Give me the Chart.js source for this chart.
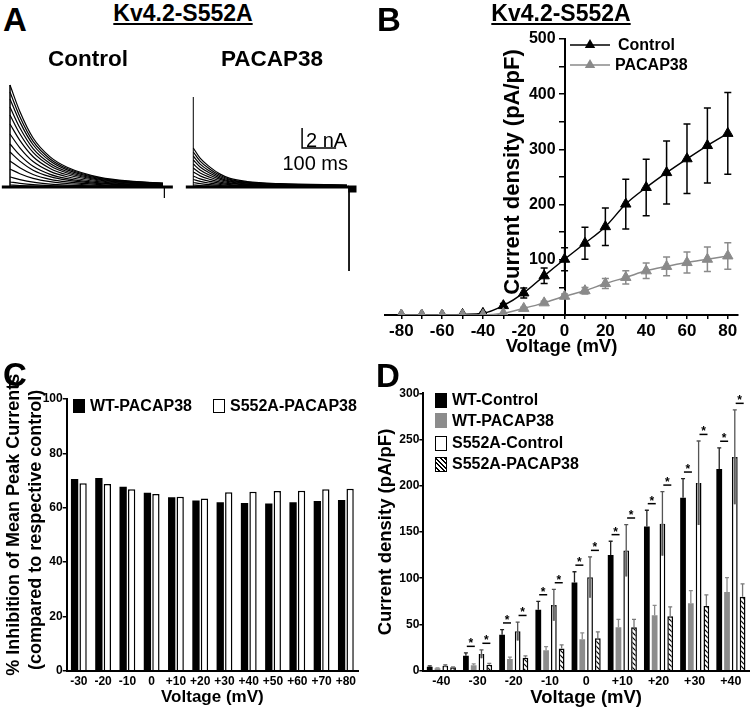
<!DOCTYPE html>
<html>
<head>
<meta charset="utf-8">
<script src="https://cdn.jsdelivr.net/npm/chart.js@4.4.0/dist/chart.umd.min.js"></script>
<style>
  body { margin: 0; background: #fff; }
  #fig { position: relative; width: 750px; height: 712px; overflow: hidden;
         font-family: 'Liberation Sans', Arial, Helvetica, sans-serif; color: #000; }
  #fig canvas { position: absolute; }
  .t { position: absolute; white-space: nowrap; line-height: 1; font-weight: bold; }
  .letter { font-size: 33px; }
  .ttl { font-size: 23px; text-decoration: underline; width: 200px; text-align: center; }
  .sw { position: absolute; box-sizing: border-box; }
</style>
</head>
<body>
<div id="fig">
  <canvas id="traceCtrl" width="180" height="150" style="left:0;top:70px"></canvas>
  <canvas id="tracePac" width="195" height="215" style="left:180px;top:70px"></canvas>
  <canvas id="chartB" width="375" height="345" style="left:375px;top:20px"></canvas>
  <canvas id="chartC" width="375" height="372" style="left:0;top:340px"></canvas>
  <canvas id="chartD" width="375" height="372" style="left:375px;top:340px"></canvas>

  <div class="t letter" style="left:3px;top:3px">A</div>
  <div class="t letter" style="left:377px;top:3px">B</div>
  <div class="t letter" style="left:3px;top:358px">C</div>
  <div class="t letter" style="left:376px;top:359px">D</div>

  <div class="t ttl" style="left:83px;top:2px">Kv4.2-S552A</div>
  <div class="t ttl" style="left:461px;top:2px">Kv4.2-S552A</div>

  <div class="t" style="left:-12px;top:48px;width:200px;text-align:center;font-size:22.5px">Control</div>
  <div class="t" style="left:172px;top:48px;width:200px;text-align:center;font-size:22.5px">PACAP38</div>
  <div class="t" style="left:306px;top:130px;font-size:20px;font-weight:normal">2 nA</div>
  <div class="t" style="left:248px;top:153px;width:100px;text-align:right;font-size:20px;font-weight:normal">100 ms</div>

  <div class="t" style="left:362px;top:159px;width:300px;height:26px;line-height:26px;text-align:center;font-size:22px;transform:rotate(-90deg);transform-origin:150px 13px">Current density (pA/pF)</div>
  <div class="t" style="left:618px;top:37px;font-size:16px">Control</div>
  <div class="t" style="left:615px;top:57px;font-size:16px">PACAP38</div>

  <div class="sw" style="left:73px;top:399px;width:12px;height:14px;background:#000"></div>
  <div class="t" style="left:90px;top:398px;font-size:16px">WT-PACAP38</div>
  <div class="sw" style="left:213px;top:399px;width:12px;height:14px;background:#fff;border:1.5px solid #000"></div>
  <div class="t" style="left:230px;top:398px;font-size:16px">S552A-PACAP38</div>

  <div class="sw" style="left:435px;top:393px;width:12px;height:15px;background:#000"></div>
  <div class="t" style="left:452px;top:392px;font-size:16px">WT-Control</div>
  <div class="sw" style="left:435px;top:413px;width:12px;height:15px;background:#8c8c8c"></div>
  <div class="t" style="left:452px;top:413px;font-size:16px">WT-PACAP38</div>
  <div class="sw" style="left:435px;top:436px;width:12px;height:15px;background:#fff;border:1.5px solid #000"></div>
  <div class="t" style="left:452px;top:435px;font-size:16px">S552A-Control</div>
  <div class="sw" style="left:435px;top:457px;width:12px;height:15px;border:1.5px solid #000;background:repeating-linear-gradient(45deg,#fff 0 2px,#000 2px 3.2px)"></div>
  <div class="t" style="left:452px;top:456px;font-size:16px">S552A-PACAP38</div>
</div>

<script>
// ---- A: example sweeps (envelope, sweep peaks in nA)
const aCtrlTime = [0, 29, 68, 118, 168, 265, 362, 450];
const aCtrlShape = [1, 0.74, 0.48, 0.295, 0.194, 0.095, 0.056, 0.039];
const aCtrlPeaks = [10.2, 9.5, 8.8, 8.0, 7.2, 6.3, 5.3, 4.3, 3.5, 2.6, 1.8, 1.0, 0.5, 0.2];
const aPacTime = [0, 20, 49, 79, 108, 158, 255, 452];
const aPacShape = [1, 0.74, 0.51, 0.33, 0.22, 0.14, 0.085, 0.05];
const aPacPeaks = [3.9, 3.5, 3.1, 2.7, 2.3, 1.9, 1.5, 1.1, 0.75, 0.45, 0.2];
const aPacTransient = 9.0;     // nA, capacitive spike at step onset
const aPacTail = -8.4;         // nA, spike at step end

// ---- B: I-V relation
const bVolt = [-80, -70, -60, -50, -40, -30, -20, -10, 0, 10, 20, 30, 40, 50, 60, 70, 80];
const bCtrl = [0, 0, 0, 1, 3, 17, 40, 71, 101, 130, 160, 201, 231, 258, 283, 307, 329];
const bCtrlErr = [0, 0, 0, 1, 2, 4, 9, 14, 21, 29, 34, 45, 51, 57, 63, 68, 74];
const bPac = [0, 0, 0, 0, 0, 3, 12, 22, 34, 44, 57, 68, 80, 88, 95, 101, 107];
const bPacErr = [0, 0, 0, 0, 0, 1, 2, 3, 4, 6, 9, 12, 14, 17, 19, 22, 24];

// ---- C: % inhibition
const cVolt = ['-30', '-20', '-10', '0', '+10', '+20', '+30', '+40', '+50', '+60', '+70', '+80'];
const cWT = [70.6, 70.9, 67.7, 65.5, 63.8, 62.6, 62.0, 61.7, 61.5, 62.0, 62.5, 62.8];
const cS552A = [69.0, 68.7, 66.8, 65.0, 64.0, 63.4, 65.7, 65.9, 66.1, 66.2, 66.8, 67.0];

// ---- D: current density bars
const dVolt = ['-40', '-30', '-20', '-10', '0', '+10', '+20', '+30', '+40'];
const dWTCtrl = [4.3, 16.2, 39, 66, 95.5, 125, 156, 187, 218];
const dWTCtrlErr = [1, 3, 5.5, 9, 11.5, 15, 17.5, 20.7, 23];
const dWTPac = [2.6, 5.8, 12.7, 22, 34, 47, 60, 73, 85];
const dWTPacErr = [0.5, 1.5, 2, 4, 7, 8.5, 10.7, 13.5, 15.6];
const dSCtrl = [5.4, 18, 42.6, 71, 101, 130, 159, 203, 231];
const dSCtrlErr = [1, 4.5, 10, 17, 22, 28, 34.6, 45.4, 51];
const dSPac = [3.6, 6.5, 14, 24, 35, 47, 59, 70, 80];
const dSPacErr = [0.5, 1.5, 2, 4, 7, 8.5, 10, 12, 13.8];
const dSig = [false, true, true, true, true, true, true, true, true];

const FONT = "'Liberation Sans', Arial, Helvetica, sans-serif";
Chart.defaults.font.family = FONT;
Chart.defaults.color = '#000';

const quiet = { legend: { display: false }, tooltip: { enabled: false } };

// error bars: dataset.errors, drawn up (and down when errorBoth)
function drawErrors(chart) {
  const ctx = chart.ctx;
  chart.data.datasets.forEach((ds, di) => {
    if (!ds.errors) return;
    const meta = chart.getDatasetMeta(di);
    const ys = chart.scales[meta.yAxisID];
    ctx.save();
    ctx.strokeStyle = ds.errorColor || '#000';
    ctx.lineWidth = ds.errorWidth || 1.5;
    meta.data.forEach((el, i) => {
      const e = ds.errors[i];
      if (!e) return;
      const v = typeof ds.data[i] === 'object' ? ds.data[i].y : ds.data[i];
      const x = el.x, y0 = ys.getPixelForValue(v);
      const yt = ys.getPixelForValue(v + e), yb = ys.getPixelForValue(v - e);
      const c = ds.errorCap / 2;
      if (ds.errorInner) {
        ctx.fillStyle = '#9a9a9a';
        ctx.fillRect(x - el.width / 2 + 1.5, y0, el.width - 3, yb - y0);
        ctx.beginPath(); ctx.moveTo(x, y0); ctx.lineTo(x, yb); ctx.stroke();
      }
      ctx.beginPath();
      ctx.moveTo(x, y0); ctx.lineTo(x, yt);
      ctx.moveTo(x - c, yt); ctx.lineTo(x + c, yt);
      if (ds.errorBoth) {
        ctx.moveTo(x, y0); ctx.lineTo(x, yb);
        ctx.moveTo(x - c, yb); ctx.lineTo(x + c, yb);
      }
      ctx.stroke();
    });
    ctx.restore();
  });
}
const errorBars = {
  id: 'errorBars',
  beforeDatasetsDraw(chart, a, o) { if (o.under) drawErrors(chart); },
  afterDatasetsDraw(chart, a, o) { if (!o.under) drawErrors(chart); }
};

// ---------- A
function sweeps(times, shape, peaks) {
  return peaks.map(p => ({
    data: times.map((t, i) => ({ x: t, y: p * shape[i] })),
    borderColor: '#000', borderWidth: 1.2, pointRadius: 0, cubicInterpolationMode: 'monotone'
  }));
}
function seg(points, w) {
  return { data: points, borderColor: '#000', borderWidth: w, pointRadius: 0, tension: 0 };
}
function traceChart(id, xr, yr, datasets) {
  return new Chart(document.getElementById(id), {
    type: 'line',
    data: { datasets },
    options: {
      responsive: false, animation: false, devicePixelRatio: 1, events: [],
      layout: { padding: 0 },
      plugins: quiet,
      scales: {
        x: { type: 'linear', display: false, min: xr[0], max: xr[1] },
        y: { type: 'linear', display: false, min: yr[0], max: yr[1] }
      }
    }
  });
}
const ctrlEnd = aCtrlTime[aCtrlTime.length - 1];
traceChart('traceCtrl', [-29.4, 500], [-3.3, 11.7], [
  seg([{ x: -24, y: 0 }, { x: 479, y: 0 }], 3),
  seg([{ x: 0, y: 0 }, { x: 0, y: aCtrlPeaks[0] }], 1.5),
  seg([{ x: ctrlEnd + 4, y: 0 }, { x: ctrlEnd + 4, y: -1.1 }], 1.2),
  ...sweeps(aCtrlTime, aCtrlShape, aCtrlPeaks)
]);
const pacEnd = aPacTime[aPacTime.length - 1] + 6;
traceChart('tracePac', [-39.1, 534.4], [-9.8, 11.7], [
  seg([{ x: -22, y: 0 }, { x: pacEnd, y: 0 }], 3),
  seg([{ x: 0, y: 0 }, { x: 0, y: aPacTransient }], 1),
  seg([{ x: pacEnd, y: 0 }, { x: pacEnd, y: aPacTail }], 1),
  seg([{ x: pacEnd - 2, y: -0.2 }, { x: pacEnd + 22, y: -0.2 }], 7),
  seg([{ x: 320, y: 5.9 }, { x: 320, y: 3.9 }, { x: 420, y: 3.9 }], 1.5),
  ...sweeps(aPacTime, aPacShape, aPacPeaks)
]);

// ---------- B
const lineLegend = {
  id: 'lineLegend',
  afterDraw(chart, a, o) {
    const ctx = chart.ctx;
    chart.data.datasets.forEach((ds, i) => {
      const y = o.y + i * o.gap, cx = o.x + o.len / 2, r = ds.pointRadius;
      ctx.save();
      ctx.strokeStyle = ds.borderColor; ctx.lineWidth = ds.borderWidth;
      ctx.beginPath(); ctx.moveTo(o.x, y); ctx.lineTo(o.x + o.len, y); ctx.stroke();
      ctx.fillStyle = ds.pointBackgroundColor;
      ctx.beginPath();
      for (let k = 0; k < 3; k++) {
        const ang = k * 2 * Math.PI / 3;
        const px = cx + Math.sin(ang) * r, py = y - Math.cos(ang) * r;
        if (k) ctx.lineTo(px, py); else ctx.moveTo(px, py);
      }
      ctx.closePath(); ctx.fill();
      ctx.restore();
    });
  }
};
function ivSet(vals, errs, color, order) {
  return {
    data: bVolt.map((v, i) => ({ x: v, y: vals[i] })),
    errors: errs, errorBoth: true, errorCap: 7, errorColor: color, errorWidth: 1.5,
    borderColor: color, borderWidth: 1.5, pointStyle: 'triangle', pointRadius: 6,
    pointBackgroundColor: color, pointBorderColor: color, pointBorderWidth: 1,
    cubicInterpolationMode: 'monotone', order
  };
}
new Chart(document.getElementById('chartB'), {
  type: 'line',
  data: { datasets: [ivSet(bCtrl, bCtrlErr, '#000', 1), ivSet(bPac, bPacErr, '#8a8a8a', 0)] },
  plugins: [errorBars, lineLegend],
  options: {
    responsive: false, animation: false, devicePixelRatio: 1, events: [],
    layout: { padding: { left: 10, right: 12, top: 19, bottom: 0 } },
    plugins: { ...quiet, errorBars: { under: true }, lineLegend: { x: 195, y: 25, gap: 20, len: 40 } },
    scales: {
      x: {
        type: 'linear', min: -88, max: 85,
        afterFit: s => { s.height = 50; },
        ticks: { stepSize: 10, includeBounds: false, autoSkip: false, maxRotation: 0, padding: 2, color: '#000',
                 font: { size: 17, weight: 'bold' }, callback: v => (v % 20 === 0 ? String(v) : '') },
        grid: { drawOnChartArea: false, tickLength: 4, color: '#000', lineWidth: 1.5 },
        border: { color: '#000', width: 2 },
        title: { display: true, text: 'Voltage (mV)', color: '#000',
                 font: { size: 18.5, weight: 'bold' }, padding: { top: 0, bottom: 7 } }
      },
      y: {
        type: 'linear', position: { x: 0 }, min: 0, max: 500,
        ticks: { stepSize: 50, color: '#000', font: { size: 16, weight: 'bold' },
                 callback: v => (v % 100 === 0 && v > 0 ? v + '  ' : '') },
        grid: { drawOnChartArea: false, tickLength: 5, color: '#000', lineWidth: 1.5 },
        border: { color: '#000', width: 2 }
      }
    }
  }
});

// ---------- C
new Chart(document.getElementById('chartC'), {
  type: 'bar',
  data: {
    labels: cVolt,
    datasets: [
      { label: 'WT-PACAP38', data: cWT, backgroundColor: '#000', borderColor: '#000', borderWidth: 0 },
      { label: 'S552A-PACAP38', data: cS552A, backgroundColor: '#fff', borderColor: '#000', borderWidth: 1.5 }
    ]
  },
  options: {
    responsive: false, animation: false, devicePixelRatio: 1, events: [],
    layout: { padding: { left: 0, right: 17, top: 59, bottom: 0 } },
    plugins: quiet,
    datasets: { bar: { categoryPercentage: 0.7, barPercentage: 0.86 } },
    scales: {
      x: {
        afterFit: s => { s.height = 41.3; },
        grid: { display: false, drawTicks: false },
        border: { color: '#000', width: 2 },
        ticks: { autoSkip: false, maxRotation: 0, padding: 3.4, color: '#000', font: { size: 12, weight: 'bold' } },
        title: { display: true, text: 'Voltage (mV)', color: '#000',
                 font: { size: 17, weight: 'bold' }, padding: { top: 0, bottom: 4.5 } }
      },
      y: {
        min: 0, max: 100,
        afterFit: s => { s.width = 66.7; },
        ticks: { stepSize: 20, padding: 0, color: '#000', font: { size: 12, weight: 'bold' } },
        grid: { drawOnChartArea: false, tickLength: 4, color: '#000', lineWidth: 1.5 },
        border: { color: '#000', width: 2 },
        title: { display: true, color: '#000',
                 text: ['    % Inhibition of Mean Peak Currents', '  (compared to respective control)'],
                 font: { size: 18, weight: 'bold', lineHeight: 1.2 }, padding: { top: 3.2, bottom: 0 } }
      }
    }
  }
});

// ---------- D
function hatch(ctx) {
  const c = document.createElement('canvas');
  c.width = 5; c.height = 5;
  const g = c.getContext('2d');
  g.fillStyle = '#fff'; g.fillRect(0, 0, 5, 5);
  g.strokeStyle = '#000'; g.lineWidth = 1.2;
  g.beginPath();
  g.moveTo(0, 0); g.lineTo(5, 5);
  g.moveTo(-1, 4); g.lineTo(1, 6);
  g.moveTo(4, -1); g.lineTo(6, 1);
  g.stroke();
  return ctx.createPattern(c, 'repeat');
}
const sigStars = {
  id: 'sigStars',
  afterDatasetsDraw(chart, a, o) {
    const ctx = chart.ctx, ys = chart.scales.y;
    ctx.save();
    ctx.strokeStyle = '#000'; ctx.fillStyle = '#000'; ctx.lineWidth = 1.5;
    ctx.font = 'bold 12px ' + FONT; ctx.textAlign = 'center'; ctx.textBaseline = 'alphabetic';
    o.pairs.forEach(([c, p]) => {
      const dc = chart.data.datasets[c];
      const mc = chart.getDatasetMeta(c), mp = chart.getDatasetMeta(p);
      dSig.forEach((on, i) => {
        if (!on) return;
        const x = (mc.data[i].x + mp.data[i].x) / 2 + 1;
        const y = ys.getPixelForValue(dc.data[i] + dc.errors[i]) - 6.6;
        ctx.beginPath(); ctx.moveTo(x - 4, y); ctx.lineTo(x + 4, y); ctx.stroke();
        ctx.fillText('*', x, y + 1);
      });
    });
    ctx.restore();
  }
};
const dCanvas = document.getElementById('chartD');
new Chart(dCanvas, {
  type: 'bar',
  data: {
    labels: dVolt,
    datasets: [
      { label: 'WT-Control', data: dWTCtrl, errors: dWTCtrlErr, errorCap: 4, errorColor: '#222', errorWidth: 1.3,
        backgroundColor: '#000', borderWidth: 0 },
      { label: 'WT-PACAP38', data: dWTPac, errors: dWTPacErr, errorCap: 4, errorColor: '#8c8c8c', errorWidth: 1.3,
        backgroundColor: '#8c8c8c', borderWidth: 0 },
      { label: 'S552A-Control', data: dSCtrl, errors: dSCtrlErr, errorCap: 4, errorColor: '#555', errorWidth: 1.3,
        errorInner: true, backgroundColor: '#fff', borderColor: '#000', borderWidth: 1.5 },
      { label: 'S552A-PACAP38', data: dSPac, errors: dSPacErr, errorCap: 4, errorColor: '#777', errorWidth: 1.3,
        backgroundColor: hatch(dCanvas.getContext('2d')), borderColor: '#000', borderWidth: 1.5 }
    ]
  },
  plugins: [errorBars, sigStars],
  options: {
    responsive: false, animation: false, devicePixelRatio: 1, events: [],
    layout: { padding: { left: 0, right: 1, top: 53.3, bottom: 0 } },
    plugins: { ...quiet, sigStars: { pairs: [[0, 1], [2, 3]] } },
    datasets: { bar: { categoryPercentage: 0.86, barPercentage: 0.74 } },
    scales: {
      x: {
        afterFit: s => { s.height = 41.3; },
        grid: { display: false, drawTicks: false },
        border: { color: '#000', width: 2 },
        ticks: { autoSkip: false, maxRotation: 0, padding: 3.8, color: '#000', font: { size: 12.5, weight: 'bold' } },
        title: { display: true, text: 'Voltage (mV)', color: '#000',
                 font: { size: 18.5, weight: 'bold' }, padding: { top: 0, bottom: 3.4 } }
      },
      y: {
        min: 0, max: 300,
        afterFit: s => { s.width = 48.3; },
        ticks: { stepSize: 50, padding: 0, color: '#000', font: { size: 12, weight: 'bold' } },
        grid: { drawOnChartArea: false, tickLength: 4, color: '#000', lineWidth: 1.5 },
        border: { color: '#000', width: 2 },
        title: { display: true, text: 'Current density (pA/pF)', color: '#000',
                 font: { size: 18.5, weight: 'bold' }, padding: { top: 0, bottom: 0 } }
      }
    }
  }
});
</script>
</body>
</html>
